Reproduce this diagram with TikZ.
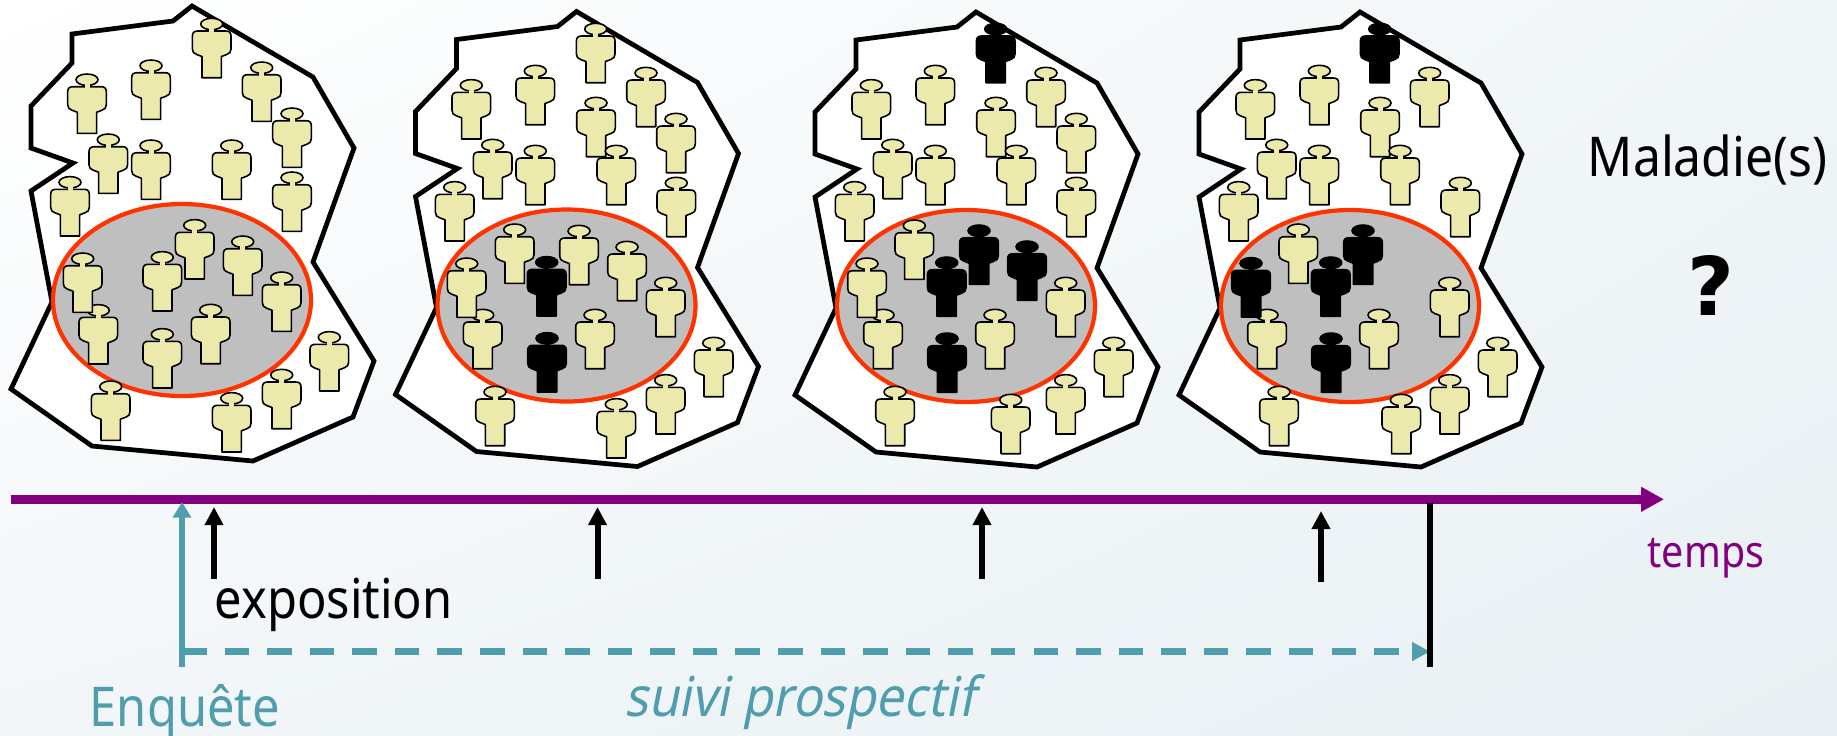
\documentclass[tikz,border=0pt]{standalone}
\usepackage{fontspec}
\setmainfont[FakeStretch=0.89]{Noto Sans}
\newfontfamily\maladiefont[FakeStretch=0.91]{Noto Sans}
\newfontfamily\suivifont[FakeStretch=0.90,FakeSlant=0.2]{Noto Sans}
\newfontfamily\grasfont{DejaVu Sans}
\usetikzlibrary{arrows.meta,shadings}
\definecolor{violet}{HTML}{800080}
\definecolor{sarcelle}{HTML}{4F9DAD}
\definecolor{sable}{HTML}{ECE9AD}
\definecolor{rouge}{HTML}{FF3300}
\definecolor{grisc}{HTML}{BFBFBF}
\definecolor{fondA}{HTML}{F0F5F7}
\definecolor{fondB}{HTML}{F2F6F8}
\definecolor{fondC}{HTML}{E8F0F3}
\tikzset{
  person/.pic={
    \path[pic actions,draw=black,line width=0.45pt] (0,0) ellipse (11 and 5.7);
    \path[pic actions,draw=black,line width=0.45pt,line join=round] (-3,7)
      -- (-14,7) .. controls (-17.5,7) and (-19.3,8.5) .. (-19.3,12) -- (-19.3,25)
      .. controls (-19.3,28) and (-18,29.5) .. (-15,30.5) -- (-9.7,32.5) -- (-9.7,53.7)
      -- (9.7,53.7) -- (9.7,32.5) -- (15,30.5) .. controls (18,29.5) and (19.3,28) .. (19.3,25)
      -- (19.3,12) .. controls (19.3,8.5) and (17.5,7) .. (14,7) -- (3,7) -- cycle;
    \path[pic actions] (-2.5,4) rectangle (2.5,9);
  },
  contour/.style={draw=black,fill=white,line width=1.35pt,line join=miter},
  groupe/.style={draw=rouge,fill=grisc,line width=1.2pt},
  texte/.style={inner sep=0pt,anchor=base west},
  flechenoire/.style={draw=black,line width=1.7pt,-{Triangle[length=1.8mm,width=1.77mm]}},
}
% contour and exposed group of one panel
\newcommand{\population}[2]{
  \draw[contour,shift={(#1,#2)}] (72,34) -- (173,21) -- (192,6) -- (313,77) -- (354,148)
    -- (313,262) -- (374,361) -- (353,417) -- (253,461) -- (92,446) -- (11,389)
    -- (52,302) -- (31,191) -- (73,163) -- (31,148) -- (31,106) -- (72,63) -- cycle;
  \draw[groupe,shift={(#1,#2)}] (182,300) ellipse (129 and 96);
}
\begin{document}
\begin{tikzpicture}[x=0.01cm,y=-0.01cm]

% Fond
\shade[upper left=white,upper right=fondA,lower left=fondB,lower right=fondC] (0,0) rectangle (1837,735);
\useasboundingbox (0,0) rectangle (1837,735);

% Populations
\population{0}{0}
\population{384.5}{5.5}
\population{784}{6}
\population{1168}{6}

% Premier panneau
\foreach \x/\y in {211.7/24,151/65.7,87/79.7,261.7/67.7,292/113.7,108.3/139.7,151/145.7,231.7/145.7,292/177.7,70/182.3,
  194.7/225.3,242.7/241.7,98.3/310.3,82.7/258.7,162.3/257.3,281.7/277.7,210.7/310,162.3/334.3,
  329.3/337.3,281.7/375,110.7/386.7,231.7/398.3}
  \pic[fill=sable] at (\x,\y) {person};

% Second panneau
\foreach \x/\y in {595.7/29,535.3/71,471.3/85.3,646/73,676/119,492.7/145,535.3/151,596/103,616.3/151,676.3/183,454.7/187.3,
  514.7/229.7,579/231,627/247,482.7/315,466.7/263.7,665.7/283,595/315,
  713.7/343,665.7/380.3,495/392,616.3/404.3}
  \pic[fill=sable] at (\x,\y) {person};
\foreach \x/\y in {546.7/262.3,547/338.3}
  \pic[fill=black] at (\x,\y) {person};

% Troisieme panneau
\foreach \x/\y in {935.3/71,871.3/85.3,1046/73,996/103,1076.3/119,892.7/145,935.3/151,1016.3/151,1076.3/183,854.7/187.3,
  914.3/225.7,1065.7/283,883/315,867/263.7,995/315,1113.7/343,1065.7/380.3,895/392,1010.7/400}
  \pic[fill=sable] at (\x,\y) {person};
\foreach \x/\y in {995.7/29,979/230.7,1027/246.7,946.7/262.7,947/338.7}
  \pic[fill=black] at (\x,\y) {person};

% Quatrieme panneau
\foreach \x/\y in {1319.3/71,1255.3/85.3,1429.7/73,1380/103,1276.7/145,1319.3/151,1400/151,1460.3/183,1238.7/187.3,
  1298.3/229.7,1449.7/283,1267/315,1379/315,1497.7/343,1449.7/380.3,1279/392,1401.3/400}
  \pic[fill=sable] at (\x,\y) {person};
\foreach \x/\y in {1379.7/29,1363/230.7,1330.7/262.7,1251/263.3,1331/338.7}
  \pic[fill=black] at (\x,\y) {person};

% Axe du temps
\coordinate (debut) at (11,499.3);
\coordinate (fin) at (1664,499.3);
\coordinate (enqA) at (182,667);
\coordinate (enqB) at (182,502);
\coordinate (suiviA) at (182,651.5);
\coordinate (suiviB) at (1430,651.5);
\coordinate (barreA) at (1430,503);
\coordinate (barreB) at (1430,667);

\draw[violet,line width=2.4pt,-{Triangle[length=2.3mm,width=2.35mm]}] (debut) -- (fin);
\draw[sarcelle,line width=1.6pt,-{Triangle[length=1.55mm,width=1.77mm]}] (enqA) -- (enqB);
\draw[sarcelle,line width=1.9pt,dash pattern=on 2.45mm off 1.805mm,-{Triangle[length=1.8mm,width=1.8mm]}] (suiviA) -- (suiviB);
\draw[black,line width=1.6pt] (barreA) -- (barreB);

% Fleches d'exposition
\foreach \n/\x/\yh/\yb in {1/214/507/579,2/597.5/507/579,3/982/507/579,4/1321/511/582}{
  \coordinate (expo\n) at (\x,\yb);
  \coordinate (expoh\n) at (\x,\yh);
  \draw[flechenoire] (expo\n) -- (expoh\n);
}

% Textes
\node[texte] (tmaladie) at (1587,176) {\fontsize{15.6pt}{18pt}\selectfont\maladiefont Maladie(s)};
\node[texte] (tquestion) at (1687,315) {\fontsize{23pt}{26pt}\selectfont\grasfont\bfseries ?};
\node[texte] (ttemps) at (1647,567) {\fontsize{12.6pt}{14pt}\selectfont\color{violet}temps};
\node[texte] (texpo) at (214,618) {\fontsize{15.6pt}{18pt}\selectfont exposition};
\node[texte] (tenq) at (89,726) {\fontsize{15.6pt}{18pt}\selectfont\color{sarcelle}Enquête};
\node[texte] (tsuivi) at (624,716) {\fontsize{15.6pt}{18pt}\selectfont\suivifont\color{sarcelle}suivi prospectif};
\end{tikzpicture}
\end{document}
